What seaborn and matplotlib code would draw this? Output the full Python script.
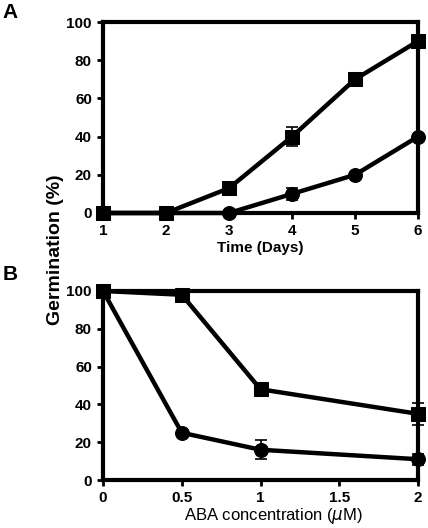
import numpy as np
import pandas as pd
import matplotlib
matplotlib.use("Agg")
import matplotlib.pyplot as plt
import seaborn as sns

# Panel A: germination over time
days = [1, 2, 3, 4, 5, 6]
a_square = [0, 0, 13, 40, 70, 90]
a_square_err = [0, 0, 1, 5, 3, 2.5]
a_circle = [0, 0, 0, 10, 20, 40]
a_circle_err = [0, 0, 0, 3, 1, 1]

# Panel B: germination vs ABA concentration
aba = [0, 0.5, 1, 2]
b_square = [100, 98, 48, 35]
b_square_err = [0, 1, 3, 6]
b_circle = [100, 25, 16, 11]
b_circle_err = [0, 1, 5, 3]

sns.set_style("white")
plt.rcParams['font.family'] = ['Liberation Sans', 'DejaVu Sans']
plt.rcParams.update({'text.color': 'black', 'axes.labelcolor': 'black',
                     'xtick.color': 'black', 'ytick.color': 'black'})

fig = plt.figure(figsize=(4.28, 5.28), dpi=100)
ax_a = fig.add_axes([0.2407, 0.5966, 0.736, 0.3617])
ax_b = fig.add_axes([0.2407, 0.0909, 0.736, 0.358])


def draw(ax, x, ys, errs, markers):
    for y, e, m in zip(ys, errs, markers):
        df = pd.DataFrame({'x': x, 'y': y})
        sns.lineplot(data=df, x='x', y='y', ax=ax, color='black', lw=3.2,
                     marker=m, markersize=9.5 if m == 's' else 10,
                     markeredgecolor='black', clip_on=False, zorder=3)
        ax.errorbar(x, y, yerr=e, fmt='none', ecolor='black', elinewidth=1.2,
                    capsize=4, capthick=1.2, clip_on=False, zorder=4)
    for s in ax.spines.values():
        s.set_linewidth(3)
        s.set_color('black')
    ax.set_ylim(0, 100)
    ax.set_yticks([0, 20, 40, 60, 80, 100])
    ax.tick_params(axis='both', direction='out', length=4, width=2,
                   labelsize=11, colors='black', left=True, bottom=True, pad=4)
    for lab in ax.get_yticklabels() + ax.get_xticklabels():
        lab.set_fontweight('bold')
    ax.set_ylabel('')


draw(ax_a, days, [a_square, a_circle], [a_square_err, a_circle_err], ['s', 'o'])
ax_a.set_xlim(1, 6)
ax_a.set_xticks(days)
for lab in ax_a.get_xticklabels():
    lab.set_fontweight('bold')
ax_a.set_xlabel('Time (Days)', fontsize=11, fontweight='bold', labelpad=2)

draw(ax_b, aba, [b_square, b_circle], [b_square_err, b_circle_err], ['s', 'o'])
ax_b.set_xlim(0, 2)
ax_b.set_xticks([0, 0.5, 1, 1.5, 2])
ax_b.set_xticklabels(['0', '0.5', '1', '1.5', '2'], fontweight='bold')
ax_b.set_xlabel('ABA concentration ($\\mu$M)', fontsize=12)
ax_b.xaxis.set_label_coords(0.54, -0.14)

fig.text(0.13, 0.527, 'Germination (%)', rotation=90, ha='center', va='center',
         fontsize=14, fontweight='bold')
fig.text(0.006, 0.994, 'A', fontsize=15, fontweight='bold', ha='left', va='top')
fig.text(0.006, 0.499, 'B', fontsize=15, fontweight='bold', ha='left', va='top')

fig.savefig('out.png', dpi=100)
